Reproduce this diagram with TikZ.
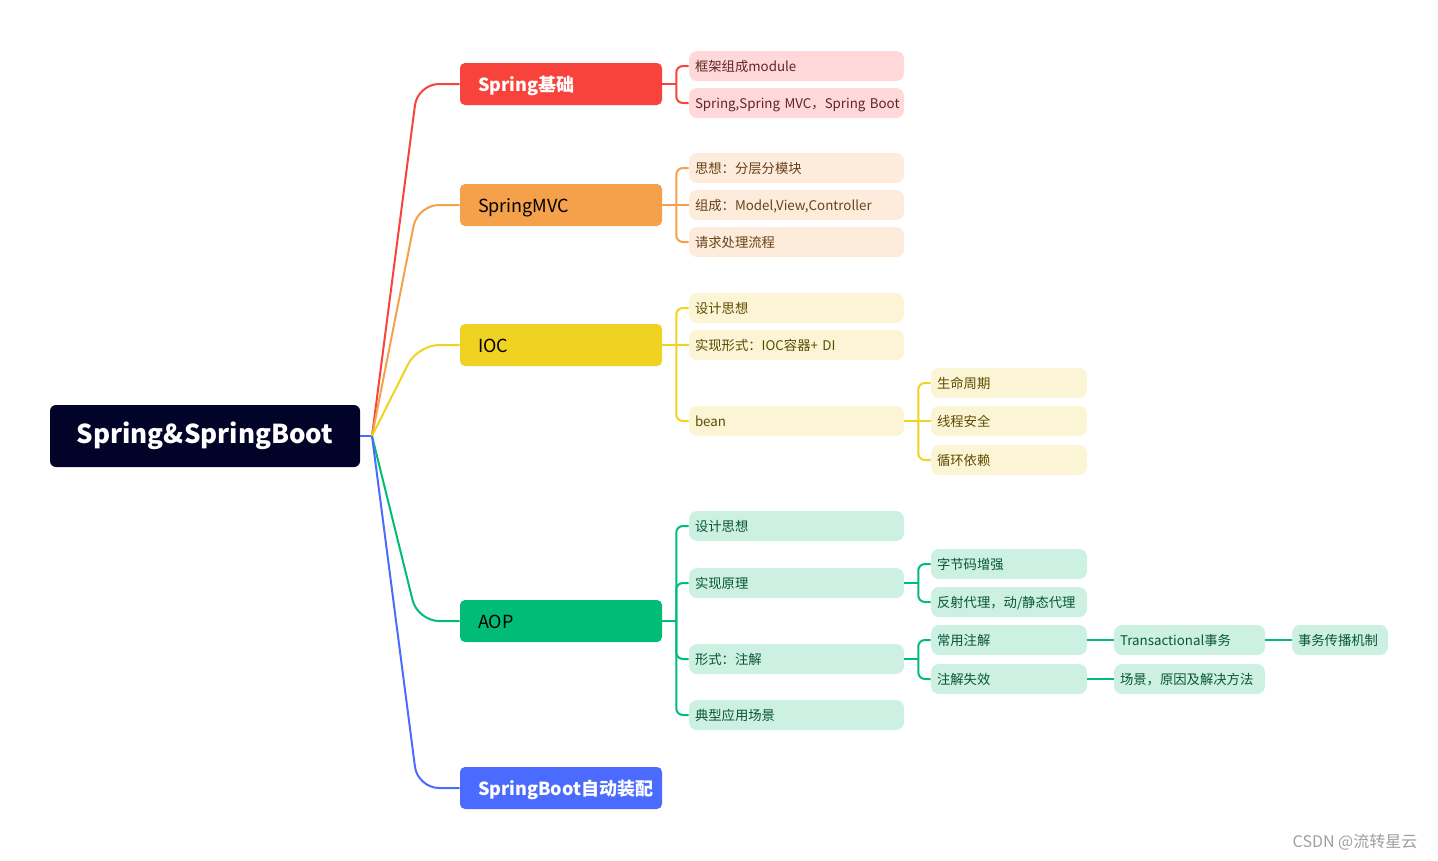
\documentclass[tikz,border=0pt]{standalone}
\usepackage{fontspec}
\setmainfont{Noto Sans CJK SC}
\usetikzlibrary{calc}
\definecolor{rootbg}{RGB}{2,3,40}
\definecolor{cred}{RGB}{248,67,60}
\definecolor{corg}{RGB}{245,160,74}
\definecolor{cyel}{RGB}{240,211,34}
\definecolor{cgrn}{RGB}{0,188,119}
\definecolor{cblu}{RGB}{74,107,253}
\definecolor{redlt}{RGB}{255,217,217}
\definecolor{orglt}{RGB}{253,235,219}
\definecolor{yellt}{RGB}{251,245,213}
\definecolor{grnlt}{RGB}{204,241,227}
\definecolor{redtx}{RGB}{94,38,36}
\definecolor{orgtx}{RGB}{104,66,24}
\definecolor{yeltx}{RGB}{92,76,0}
\definecolor{grntx}{RGB}{10,85,56}

\begin{document}
\begin{tikzpicture}[x=0.75pt, y=-0.75pt,
    rootbox/.style={fill=rootbg, rounded corners=4.5pt, minimum width=232.5pt,
                    minimum height=46.5pt, text=white,
                    text height=1.05em, text depth=0pt,
                    font=\fontsize{19.5}{23}\selectfont\bfseries},
    topic/.style={rounded corners=3.75pt, minimum height=31.5pt,
                  text width=124.5pt, inner xsep=13.5pt, align=left,
                  text height=1.05em, text depth=0pt,
                  font=\fontsize{13.5}{16}\selectfont},
    topicw/.style={topic, text=white, font=\fontsize{13.5}{16}\selectfont\bfseries},
    leaf/.style={rounded corners=6pt, minimum height=22.5pt,
                 text width=152.25pt, inner xsep=4.5pt, align=left,
                 text height=0.8em, text depth=0pt,
                 font=\fontsize{10}{12}\selectfont},
    subleaf/.style={leaf, text width=108pt},
    redleaf/.style={leaf, fill=redlt, text=redtx},
    orgleaf/.style={leaf, fill=orglt, text=orgtx},
    yelleaf/.style={leaf, fill=yellt, text=yeltx},
    grnleaf/.style={leaf, fill=grnlt, text=grntx},
    ln/.style={line width=1.5pt},
    curl/.style={ln, rounded corners=16pt},
    fork/.style={ln, rounded corners=5pt}
]
\useasboundingbox (0,0) rectangle (1438,860);

\node[rootbox] (root) at (205,436) {Spring\&SpringBoot};
\coordinate (hub) at (372,436);

% main topics
\node[topicw, fill=cred] (base) at (561,84) {Spring基础};
\node[topic, fill=corg] (mvc) at (561,205) {SpringMVC};
\node[topic, fill=cyel] (ioc) at (561,345) {IOC};
\node[topic, fill=cgrn] (aop) at (561,621) {AOP};
\node[topicw, fill=cblu] (boot) at (561,788) {SpringBoot自动装配};

\draw[ln, cblu] (root.east) -- (hub);
\draw[curl, cred] (hub) -- ($(base.west)+(-42,0)$) -- (base.west);
\draw[curl, corg] (hub) -- ($(mvc.west)+(-42,0)$) -- (mvc.west);
\draw[curl, cyel] (hub) -- ($(ioc.west)+(-42,0)$) -- (ioc.west);
\draw[curl, cgrn] (hub) -- ($(aop.west)+(-42,0)$) -- (aop.west);
\draw[curl, cblu] (hub) -- ($(boot.west)+(-42,0)$) -- (boot.west);

% Spring基础
\node[redleaf] (base1) at (796.5,66) {框架组成module};
\node[redleaf] (base2) at (796.5,103) {\mbox{Spring,Spring MVC，Spring Boot}};
\draw[ln, cred] (base.east) -- ++(14,0);
\foreach \c in {base1,base2}
    \draw[fork, cred] ($(base.east)+(14,0)$) |- (\c.west);

% SpringMVC
\node[orgleaf] (mvc1) at (796.5,168) {思想：分层分模块};
\node[orgleaf] (mvc2) at (796.5,205) {组成：Model,View,Controller};
\node[orgleaf] (mvc3) at (796.5,242) {请求处理流程};
\draw[ln, corg] (mvc.east) -- ++(14,0);
\foreach \c in {mvc1,mvc3}
    \draw[fork, corg] ($(mvc.east)+(14,0)$) |- (\c.west);
\draw[ln, corg] ($(mvc.east)+(14,0)$) -- (mvc2.west);

% IOC
\node[yelleaf] (ioc1) at (796.5,308) {设计思想};
\node[yelleaf] (ioc2) at (796.5,345) {实现形式：IOC容器+ DI};
\node[yelleaf] (bean) at (796.5,421) {bean};
\draw[ln, cyel] (ioc.east) -- ++(14,0);
\foreach \c in {ioc1,bean}
    \draw[fork, cyel] ($(ioc.east)+(14,0)$) |- (\c.west);
\draw[ln, cyel] ($(ioc.east)+(14,0)$) -- (ioc2.west);

\node[yelleaf, subleaf] (bean1) at (1009,383) {生命周期};
\node[yelleaf, subleaf] (bean2) at (1009,421) {线程安全};
\node[yelleaf, subleaf] (bean3) at (1009,460) {循环依赖};
\draw[ln, cyel] (bean.east) -- (bean2.west);
\foreach \c in {bean1,bean3}
    \draw[fork, cyel] ($(bean.east)+(14,0)$) |- (\c.west);

% AOP
\node[grnleaf] (aop1) at (796.5,526) {设计思想};
\node[grnleaf] (aop2) at (796.5,583) {实现原理};
\node[grnleaf] (aop3) at (796.5,659) {形式：注解};
\node[grnleaf] (aop4) at (796.5,715) {典型应用场景};
\draw[ln, cgrn] (aop.east) -- ++(14,0);
\foreach \c in {aop1,aop2,aop3,aop4}
    \draw[fork, cgrn] ($(aop.east)+(14,0)$) |- (\c.west);

\node[grnleaf, subleaf] (impl1) at (1009,564) {字节码增强};
\node[grnleaf, subleaf] (impl2) at (1009,602) {\mbox{反射代理，动/静态代理}};
\draw[ln, cgrn] (aop2.east) -- ++(14,0);
\foreach \c in {impl1,impl2}
    \draw[fork, cgrn] ($(aop2.east)+(14,0)$) |- (\c.west);

\node[grnleaf, subleaf] (anno1) at (1009,640) {常用注解};
\node[grnleaf, subleaf] (anno2) at (1009,679) {注解失效};
\draw[ln, cgrn] (aop3.east) -- ++(14,0);
\foreach \c in {anno1,anno2}
    \draw[fork, cgrn] ($(aop3.east)+(14,0)$) |- (\c.west);

\node[grnleaf, text width=104.25pt] (tx) at (1189.5,640) {Transactional事务};
\node[grnleaf, text width=104.25pt] (fail) at (1189.5,679) {\mbox{场景，原因及解决方法}};
\node[grnleaf, text width=63pt] (prop) at (1340,640) {事务传播机制};
\draw[ln, cgrn] (anno1.east) -- (tx.west);
\draw[ln, cgrn] (anno2.east) -- (fail.west);
\draw[ln, cgrn] (tx.east) -- (prop.west);

\node[text=black!38, font=\fontsize{12}{14}\selectfont] (wm) at (1355,842) {CSDN @流转星云};

\end{tikzpicture}
\end{document}
